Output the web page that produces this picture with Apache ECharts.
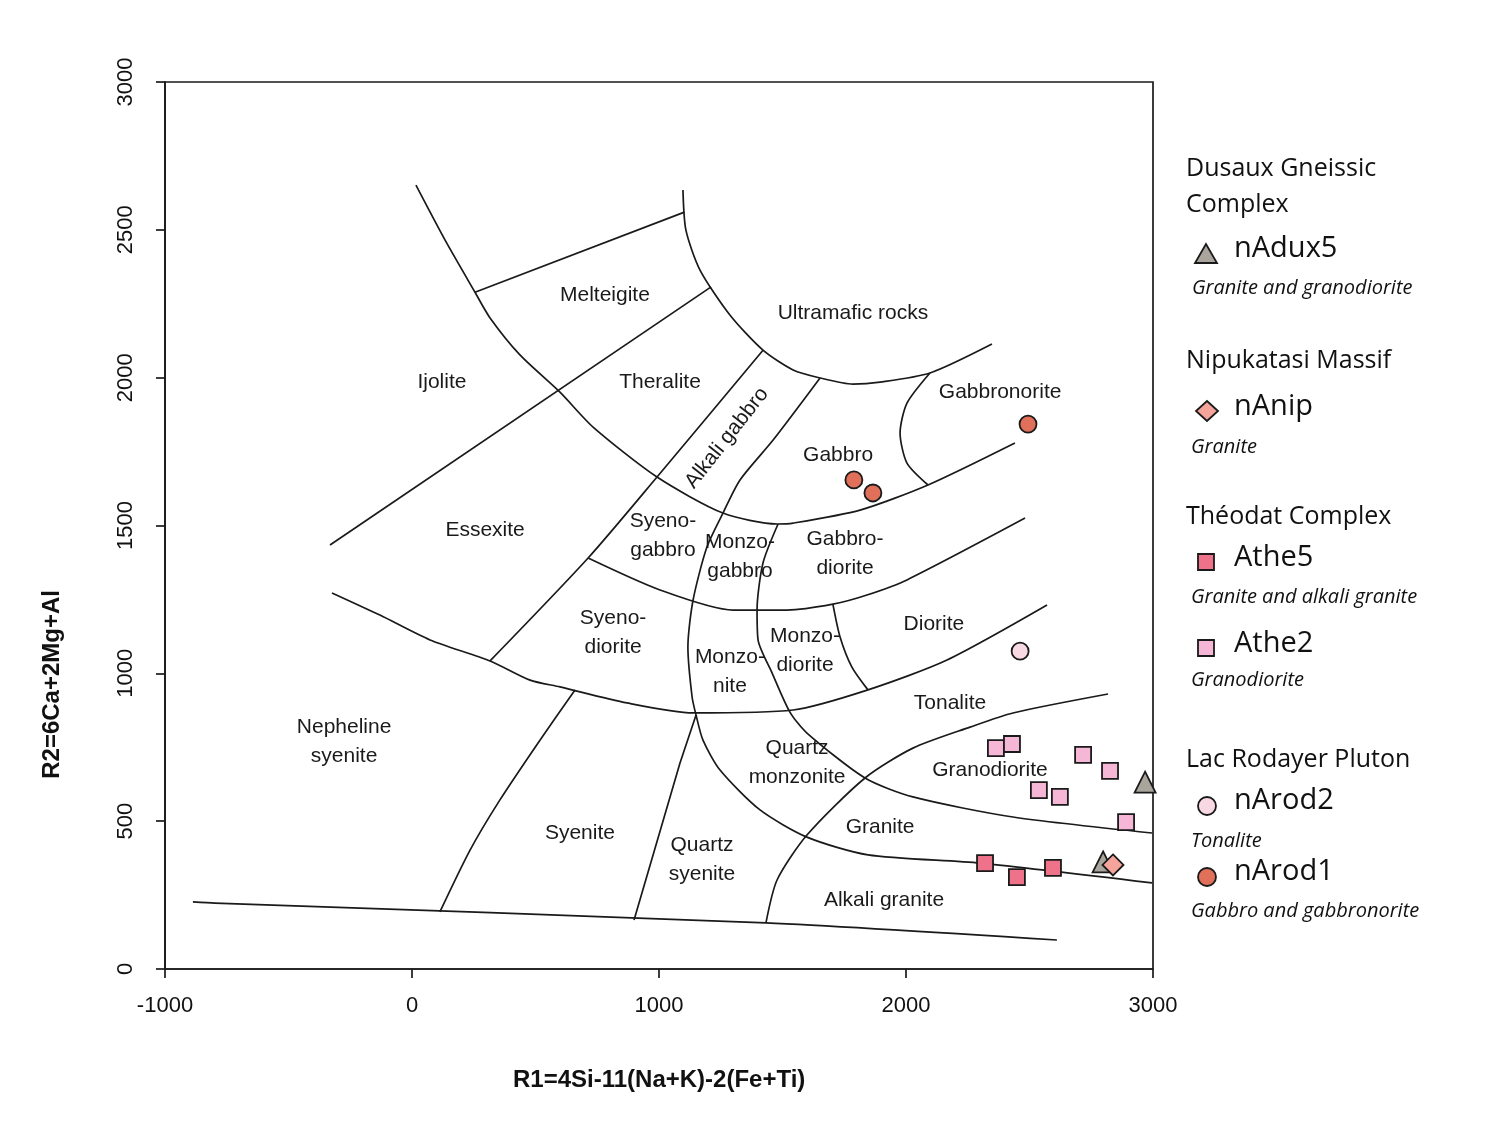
<!DOCTYPE html>
<html>
<head>
<meta charset="utf-8">
<script src="https://cdn.jsdelivr.net/npm/echarts@6/dist/echarts.min.js"></script>
<style>html,body{margin:0;background:#fff}#main{width:1499px;height:1135px}</style>
</head>
<body>
<div id="main"></div>
<script>
// field boundaries (R1, R2)
var bottomLine = [[-887,227],[-798,223],[1433,156],[2611,98]];
var outerCurve = [[16,2651],[134,2465],[255,2289],[316,2202],[437,2077],[599,1951],[733,1833],[992,1664],[1259,1542],[1478,1505],[1543,1508],[1814,1552],[2089,1637],[2441,1779]];
var ultramafic = [[1097,2635],[1109,2499],[1166,2364],[1287,2212],[1421,2093],[1543,2026],[1652,1999],[1785,1978],[1895,1985],[2097,2016],[2348,2114]];
var melteigite = [[255,2289],[1103,2560]];
var theralite = [[-332,1434],[1211,2307]];
var alkaliLeft = [[1421,2093],[992,1664],[713,1390],[316,1042]];
var monzoLine = [[1652,1999],[1462,1789],[1328,1654],[1259,1542],[1194,1427],[1138,1248],[1117,1089],[1134,920],[1150,859],[1178,774],[1247,673],[1409,538],[1599,446],[1846,386],[2300,358],[2996,291]];
var monzoDiorLine = [[1482,1505],[1421,1373],[1397,1214],[1401,1113],[1458,1001],[1530,869],[1599,798],[1834,646],[2028,582],[2433,514],[2996,460]];
var gabbroDiorBase = [[713,1390],[1004,1282],[1300,1214],[1518,1214],[1704,1234],[1842,1265],[2004,1316],[2482,1525]];
var dioriteLeft = [[1704,1234],[1733,1123],[1781,1021],[1846,944]];
var tonaliteTop = [[-324,1272],[-130,1197],[73,1113],[316,1042],[478,977],[599,954],[870,900],[1138,866],[1543,876],[1846,944],[2166,1045],[2571,1231]];
var gabbronorite = [[2097,2016],[2004,1914],[1976,1813],[2004,1711],[2089,1637]];
var nephLine = [[113,193],[235,402],[356,572],[518,774],[660,944]];
var qSyenLine = [[899,166],[1085,697],[1150,859]];
var granodLine = [[1433,156],[1478,301],[1599,453],[1834,646],[2028,747],[2259,818],[2433,866],[2818,930]];

// field names
var fieldNames = ['Melteigite','Ultramafic rocks','Ijolite','Theralite','Gabbronorite','Gabbro','Alkali gabbro','Essexite','Syeno-\ngabbro','Monzo-\ngabbro','Gabbro-\ndiorite','Syeno-\ndiorite','Diorite','Monzo-\ndiorite','Monzo-\nnite','Tonalite','Nepheline\nsyenite','Quartz\nmonzonite','Granodiorite','Granite','Syenite','Quartz\nsyenite','Alkali granite'];
var fieldPos = [[781,2279],[1785,2219],[121,1985],[1004,1985],[2381,1951],[1725,1738],[1275,1796],[296,1485],[1016,1464],[1328,1393],[1753,1404],[814,1136],[2113,1167],[1591,1075],[1287,1004],[2178,900],[-275,768],[1559,697],[2340,673],[1895,480],[680,460],[1174,369],[1911,233]];

// samples
var nArod1 = [[1789,1654],[1866,1610],[2494,1843]];
var nArod2 = [[2462,1075]];
var athe2 = [[2364,747],[2429,761],[2717,724],[2826,670],[2538,605],[2623,582],[2891,497]];
var athe5 = [[2320,358],[2449,311],[2595,342]];
var nAdux5 = [[2968,632],[2798,362]];
var nAnip = [[2838,352]];

var myChart = echarts.init(document.getElementById('main'));

var boundaries = [bottomLine,outerCurve,ultramafic,melteigite,theralite,alkaliLeft,monzoLine,monzoDiorLine,gabbroDiorBase,dioriteLeft,tonaliteTop,gabbronorite,nephLine,qSyenLine,granodLine];
var series = [];
boundaries.forEach(function(b){
    series.push({type:'line',data:b,showSymbol:false,smooth:b.length>3?0.25:false,silent:true,
        lineStyle:{color:'#1a1a1a',width:1.7},z:2});
});
series.push({type:'scatter',symbolSize:0,silent:true,z:3,itemStyle:{opacity:1},
    data:fieldNames.map(function(n,i){
        return {name:n,value:fieldPos[i],label:n=='Alkali gabbro'?{rotate:52}:undefined};
    }),
    label:{show:true,position:'inside',formatter:'{b}',color:'#1a1a1a',fontSize:21,
        fontFamily:'Liberation Sans',lineHeight:29}
});
function pts(d,sym,size,color){
    series.push({type:'scatter',data:d,symbol:sym,symbolSize:size,z:5,
        itemStyle:{color:color,borderColor:'#1a1a1a',borderWidth:1.8,opacity:1}});
}
pts(nArod1,'circle',17,'#e0705a');
pts(nArod2,'circle',17,'#f8d8e2');
pts(athe2,'rect',16,'#f6b6d6');
pts(athe5,'rect',16,'#ee7289');
pts(nAdux5,'triangle',21,'#a9a59c');
pts(nAnip,'diamond',21,'#f4a49b');

// legend built from graphic
var lg = [];
function t(x,y,s,o){lg.push({type:'text',left:x,top:y,style:Object.assign({text:s,fill:'#111',font:'25px "Open Sans"'},o||{})});}
function m(x,y,shape,color){
    var st={fill:color,stroke:'#1a1a1a',lineWidth:1.8};
    if(shape=='circle')lg.push({type:'circle',shape:{cx:x,cy:y,r:9},style:st});
    if(shape=='rect')lg.push({type:'rect',shape:{x:x-8,y:y-8,width:16,height:16},style:st});
    if(shape=='tri')lg.push({type:'polygon',shape:{points:[[x,y-10],[x-11,y+9],[x+11,y+9]]},style:st});
    if(shape=='dia')lg.push({type:'polygon',shape:{points:[[x,y-10],[x+11,y],[x,y+10],[x-11,y]]},style:st});
}
var it = 'italic 20px "Open Sans"', nm = '29px "Open Sans"';
t(1186,156,'Dusaux Gneissic'); t(1186,192,'Complex');
m(1206,254,'tri','#a9a59c'); t(1234,234,'nAdux5',{font:nm}); t(1192,278,'Granite and granodiorite',{font:it});
t(1186,348,'Nipukatasi Massif');
m(1207,411,'dia','#f4a49b'); t(1234,392,'nAnip',{font:nm}); t(1191,437,'Granite',{font:it});
t(1186,504,'Théodat Complex');
m(1206,562,'rect','#ee7289'); t(1234,543,'Athe5',{font:nm}); t(1191,587,'Granite and alkali granite',{font:it});
m(1206,648,'rect','#f6b6d6'); t(1234,629,'Athe2',{font:nm}); t(1191,670,'Granodiorite',{font:it});
t(1186,747,'Lac Rodayer Pluton');
m(1207,806,'circle','#f8d8e2'); t(1234,786,'nArod2',{font:nm}); t(1191,831,'Tonalite',{font:it});
m(1207,877,'circle','#e0705a'); t(1234,857,'nArod1',{font:nm}); t(1191,901,'Gabbro and gabbronorite',{font:it});
lg.push({type:'text',left:513,top:1068,style:{text:'R1=4Si-11(Na+K)-2(Fe+Ti)',fill:'#111',font:'bold 24px "Liberation Sans"'}});
lg.push({type:'text',left:40,top:590,rotation:Math.PI/2,style:{text:'R2=6Ca+2Mg+Al',fill:'#111',font:'bold 24px "Liberation Sans"'}});

option = {
    backgroundColor:'#fff',
    animation:false,
    grid:{left:165,top:82,width:988,height:887,show:true,borderColor:'#1a1a1a',borderWidth:1.7},
    xAxis:{type:'value',min:-1000,max:3000,interval:1000,
        axisLine:{show:true,onZero:false,lineStyle:{color:'#1a1a1a',width:1.7}},
        axisTick:{show:true,length:9,lineStyle:{color:'#1a1a1a',width:1.7}},
        axisLabel:{color:'#111',fontSize:22,fontFamily:'Liberation Sans',margin:26,formatter:function(v){return String(v);}},
        splitLine:{show:false}},
    yAxis:{type:'value',min:0,max:3000,interval:500,
        axisLine:{show:true,onZero:false,lineStyle:{color:'#1a1a1a',width:1.7}},
        axisTick:{show:true,length:9,lineStyle:{color:'#1a1a1a',width:1.7}},
        axisLabel:{color:'#111',fontSize:22,fontFamily:'Liberation Sans',rotate:90,margin:28,formatter:function(v){return String(v);}},
        splitLine:{show:false}},
    graphic:lg,
    series:series
};
myChart.setOption(option);
</script>
</body>
</html>
